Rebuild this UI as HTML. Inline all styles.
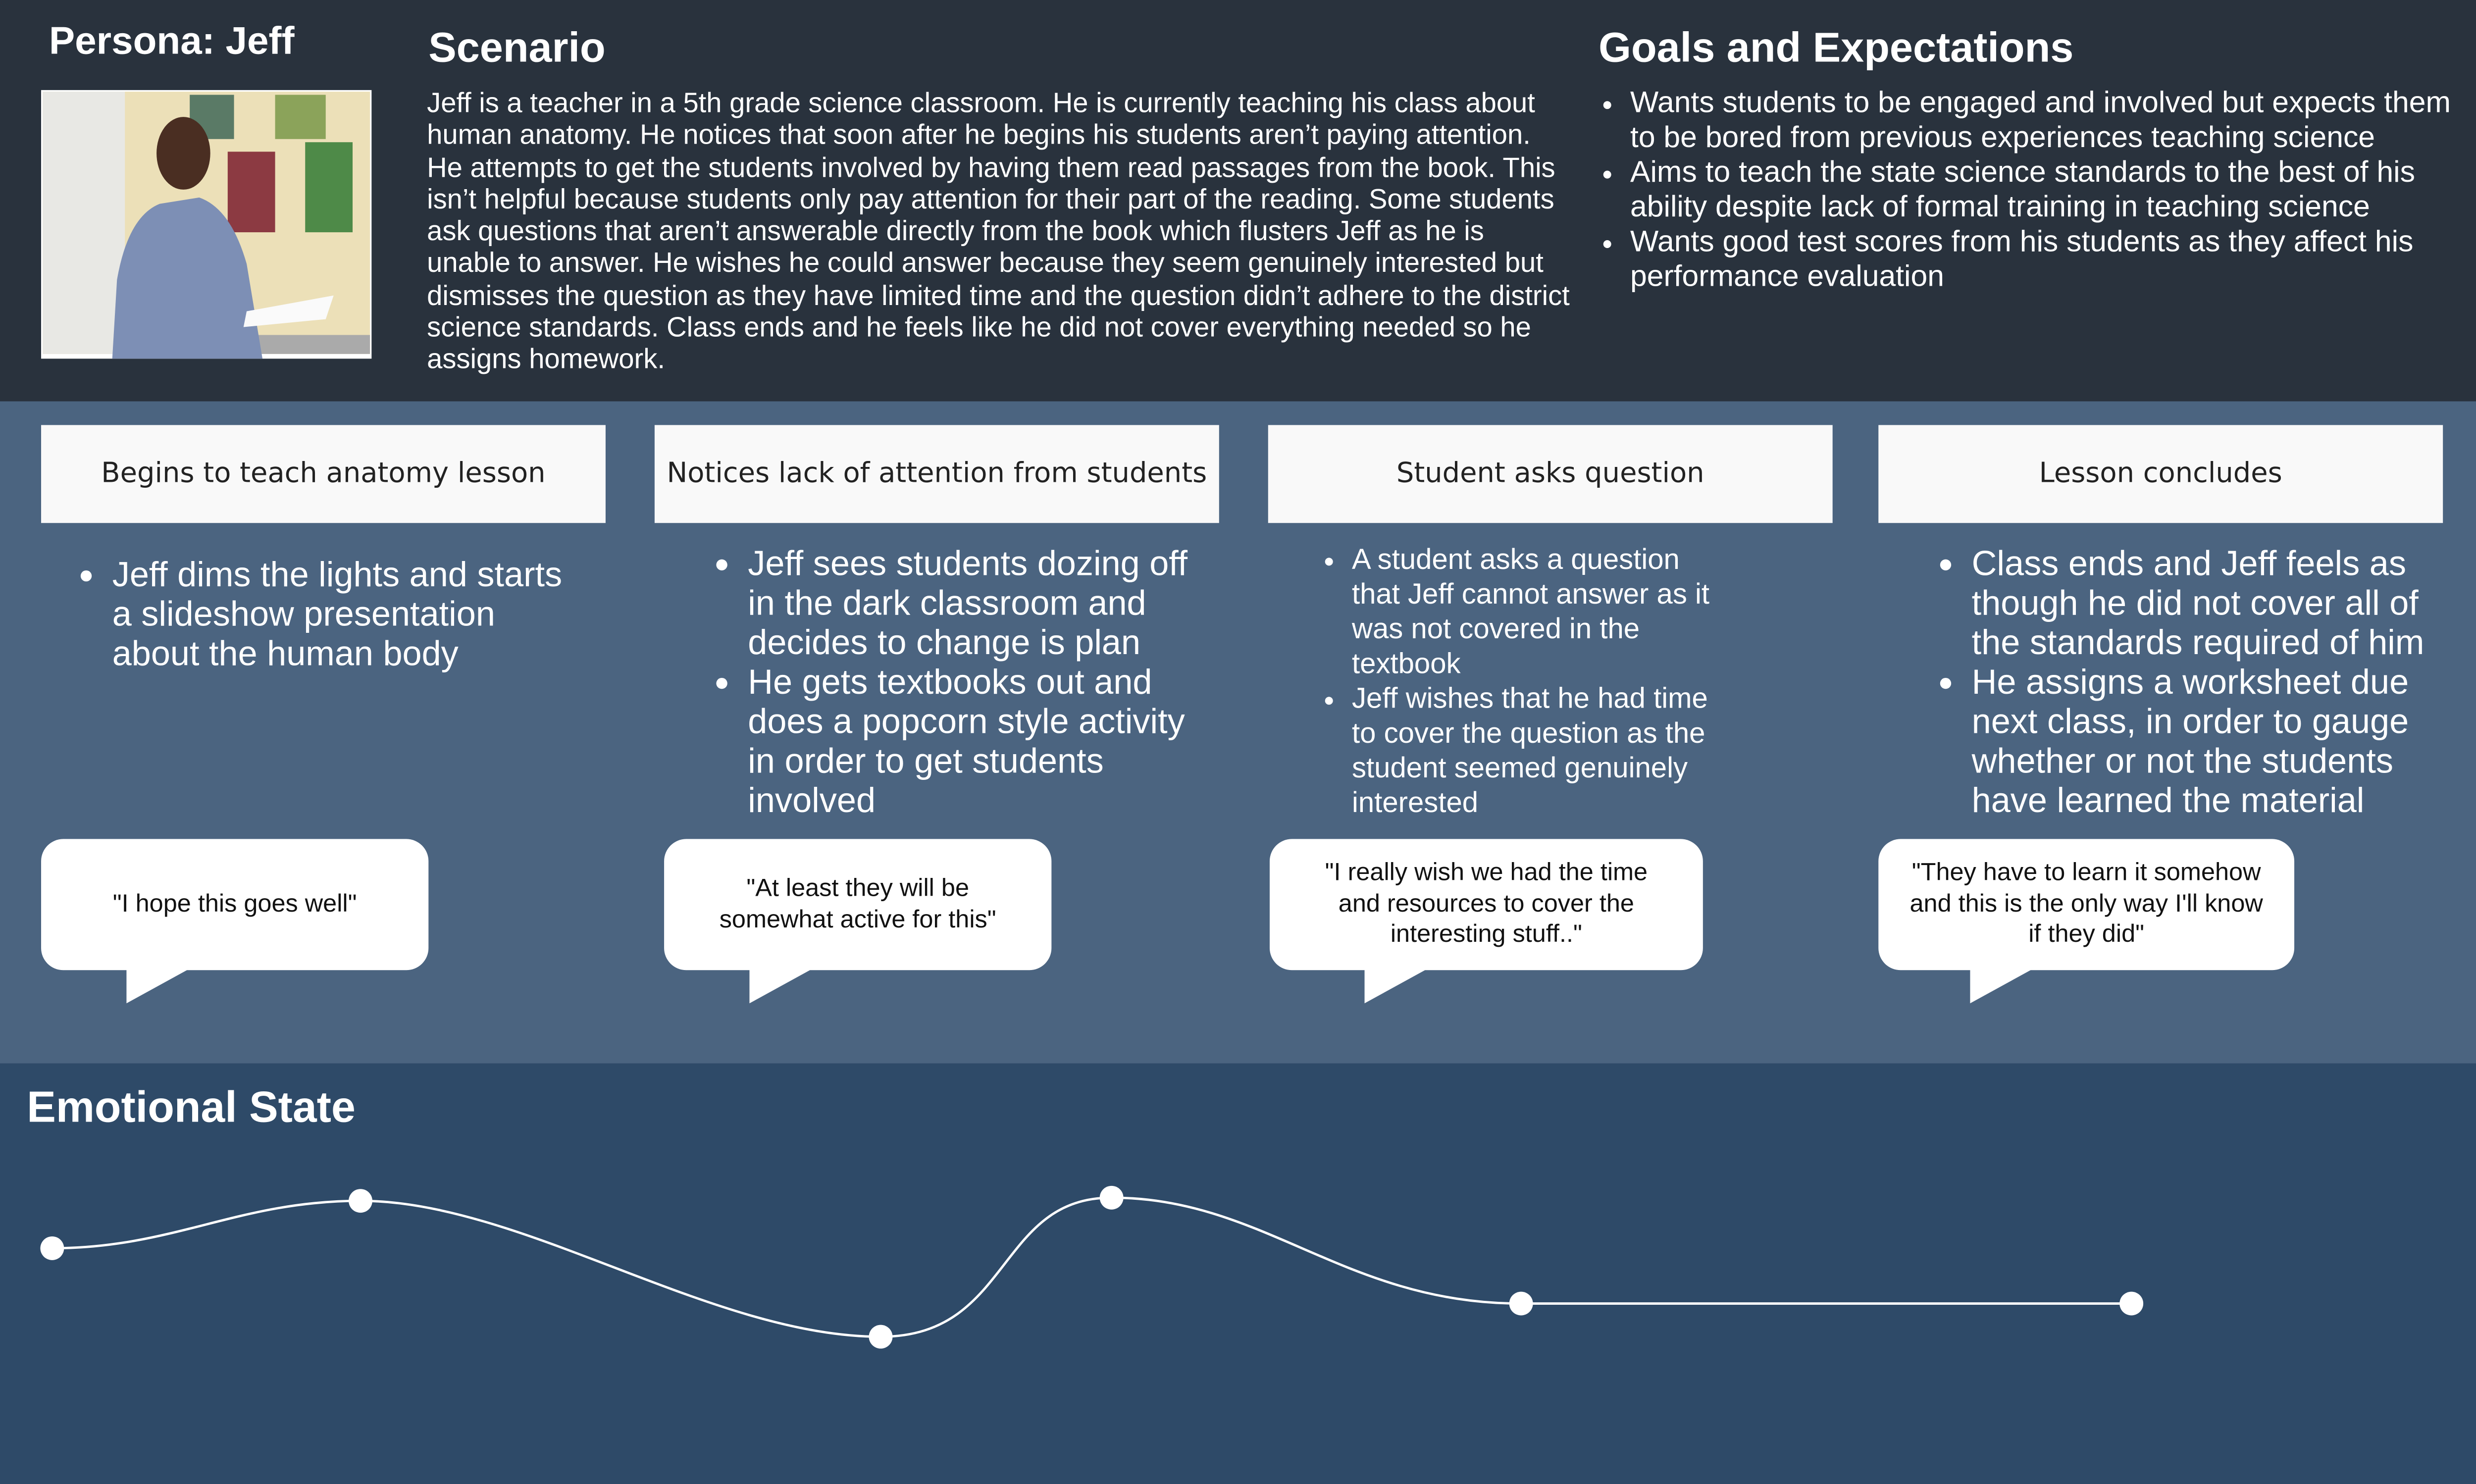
<!DOCTYPE html>
<html><head><meta charset="utf-8"><style>
html,body{margin:0;padding:0;width:5337px;height:2997px;overflow:hidden;background:#2e4a68}
#w{position:absolute;left:0;top:0;width:1568px;height:881px;transform:scale(3.193,3.191);transform-origin:0 0;font-family:"Liberation Sans",Arial,sans-serif;color:#fff}
.a{position:absolute}
.top{left:0;top:0;width:1568px;height:254px;background:#29323d}
.mid{left:0;top:254px;width:1568px;height:419px;background:#4b6480}
.bot{left:0;top:673px;width:1568px;height:260px;background:#2e4a68}
h1{margin:0;font-size:26.5px;font-weight:bold;position:absolute}
.p{font-size:17.6px;line-height:20.3px}
.box{background:#f9f9f9;color:#222;height:62px;width:357px;top:269px;display:flex;align-items:center;justify-content:center;font-family:"DejaVu Sans","Liberation Sans",sans-serif;font-size:17.5px}
ul{margin:0;padding-left:22px}
.bl{font-size:22px;line-height:25px}
.bub{background:#fff;color:#111;border-radius:14px;top:531px;height:83px;display:flex;align-items:center;justify-content:center;text-align:center;font-size:15.8px;line-height:19.5px}
.tail{width:0;height:0;border-top:22px solid #fff;border-right:40px solid transparent;top:613px}
</style></head><body><div id="w">
<div class="a top"></div><div class="a mid"></div><div class="a bot"></div>
<h1 style="left:31px;top:13px;font-size:24.5px">Persona: Jeff</h1>
<div class="a" style="left:26px;top:57px;width:209px;height:170px;background:#fff">
<svg width="209" height="170" viewBox="0 0 209 170">
<rect x="1" y="1" width="207" height="166" fill="#ece0b8"/>
<rect x="1" y="1" width="52" height="166" fill="#e8e8e4"/>
<rect x="120" y="155" width="88" height="12" fill="#aaa"/>
<rect x="94" y="3" width="28" height="28" fill="#5a7a66"/><rect x="148" y="3" width="32" height="28" fill="#8ba35a"/>
<rect x="118" y="39" width="30" height="51" fill="#8c3a42"/><rect x="167" y="33" width="30" height="57" fill="#4e8a48"/>
<path d="M45 170 L48 120 Q55 80 75 72 L100 68 Q120 75 130 110 L140 170Z" fill="#7d8fb5"/>
<ellipse cx="90" cy="40" rx="17" ry="23" fill="#4a2e22"/>
<path d="M130 140 L185 130 L180 145 L128 150Z" fill="#fafafa"/>
</svg></div>
<h1 style="left:271px;top:15px">Scenario</h1>
<div class="a p" style="left:270px;top:55px;width:760px">Jeff is a teacher in a 5th grade science classroom. He is currently teaching his class about<br>human anatomy. He notices that soon after he begins his students aren’t paying attention.<br>He attempts to get the students involved by having them read passages from the book. This<br>isn’t helpful because students only pay attention for their part of the reading. Some students<br>ask questions that aren’t answerable directly from the book which flusters Jeff as he is<br>unable to answer. He wishes he could answer because they seem genuinely interested but<br>dismisses the question as they have limited time and the question didn’t adhere to the district<br>science standards. Class ends and he feels like he did not cover everything needed so he<br>assigns homework.</div>
<h1 style="left:1011px;top:15px">Goals and Expectations</h1>
<ul class="a" style="left:1009px;top:55px;font-size:19px;line-height:22px;width:560px">
<li>Wants students to be engaged and involved but expects them<br>to be bored from previous experiences teaching science</li>
<li>Aims to teach the state science standards to the best of his<br>ability despite lack of formal training in teaching science</li>
<li>Wants good test scores from his students as they affect his<br>performance evaluation</li></ul>

<div class="a box" style="left:26px">Begins to teach anatomy lesson</div>
<div class="a box" style="left:414px">Notices lack of attention from students</div>
<div class="a box" style="left:802px">Student asks question</div>
<div class="a box" style="left:1188px">Lesson concludes</div>

<ul class="a bl" style="left:49px;top:351px;width:330px"><li>Jeff dims the lights and starts<br>a slideshow presentation<br>about the human body</li></ul>
<ul class="a bl" style="left:451px;top:344px;width:330px"><li>Jeff sees students dozing off<br>in the dark classroom and<br>decides to change is plan</li><li>He gets textbooks out and<br>does a popcorn style activity<br>in order to get students<br>involved</li></ul>
<ul class="a" style="left:833px;top:343px;width:300px;font-size:18.2px;line-height:22px"><li>A student asks a question<br>that Jeff cannot answer as it<br>was not covered in the<br>textbook</li><li>Jeff wishes that he had time<br>to cover the question as the<br>student seemed genuinely<br>interested</li></ul>
<ul class="a bl" style="left:1225px;top:344px;width:340px"><li>Class ends and Jeff feels as<br>though he did not cover all of<br>the standards required of him</li><li>He assigns a worksheet due<br>next class, in order to gauge<br>whether or not the students<br>have learned the material</li></ul>

<div class="a bub" style="left:26px;width:245px">"I hope this goes well"</div><div class="a tail" style="left:80px"></div>
<div class="a bub" style="left:420px;width:245px">"At least they will be<br>somewhat active for this"</div><div class="a tail" style="left:474px"></div>
<div class="a bub" style="left:803px;width:274px">"I really wish we had the time<br>and resources to cover the<br>interesting stuff.."</div><div class="a tail" style="left:863px"></div>
<div class="a bub" style="left:1188px;width:263px">"They have to learn it somehow<br>and this is the only way I'll know<br>if they did"</div><div class="a tail" style="left:1246px"></div>

<h1 style="left:17px;top:685px;font-size:27.5px">Emotional State</h1>
<svg class="a" style="left:0;top:0" width="1568" height="881">
<path d="M33 790 C110 790 150 760 228 760 C330 760 450 846 557 846 C640 846 630 758 703 758 C800 758 850 825 962 825 L1348 825" fill="none" stroke="#fff" stroke-width="1.5"/>
<g fill="#fff"><circle cx="33" cy="790" r="7.5"/><circle cx="228" cy="760" r="7.5"/><circle cx="557" cy="846" r="7.5"/><circle cx="703" cy="758" r="7.5"/><circle cx="962" cy="825" r="7.5"/><circle cx="1348" cy="825" r="7.5"/></g>
</svg>
</div></body></html>
